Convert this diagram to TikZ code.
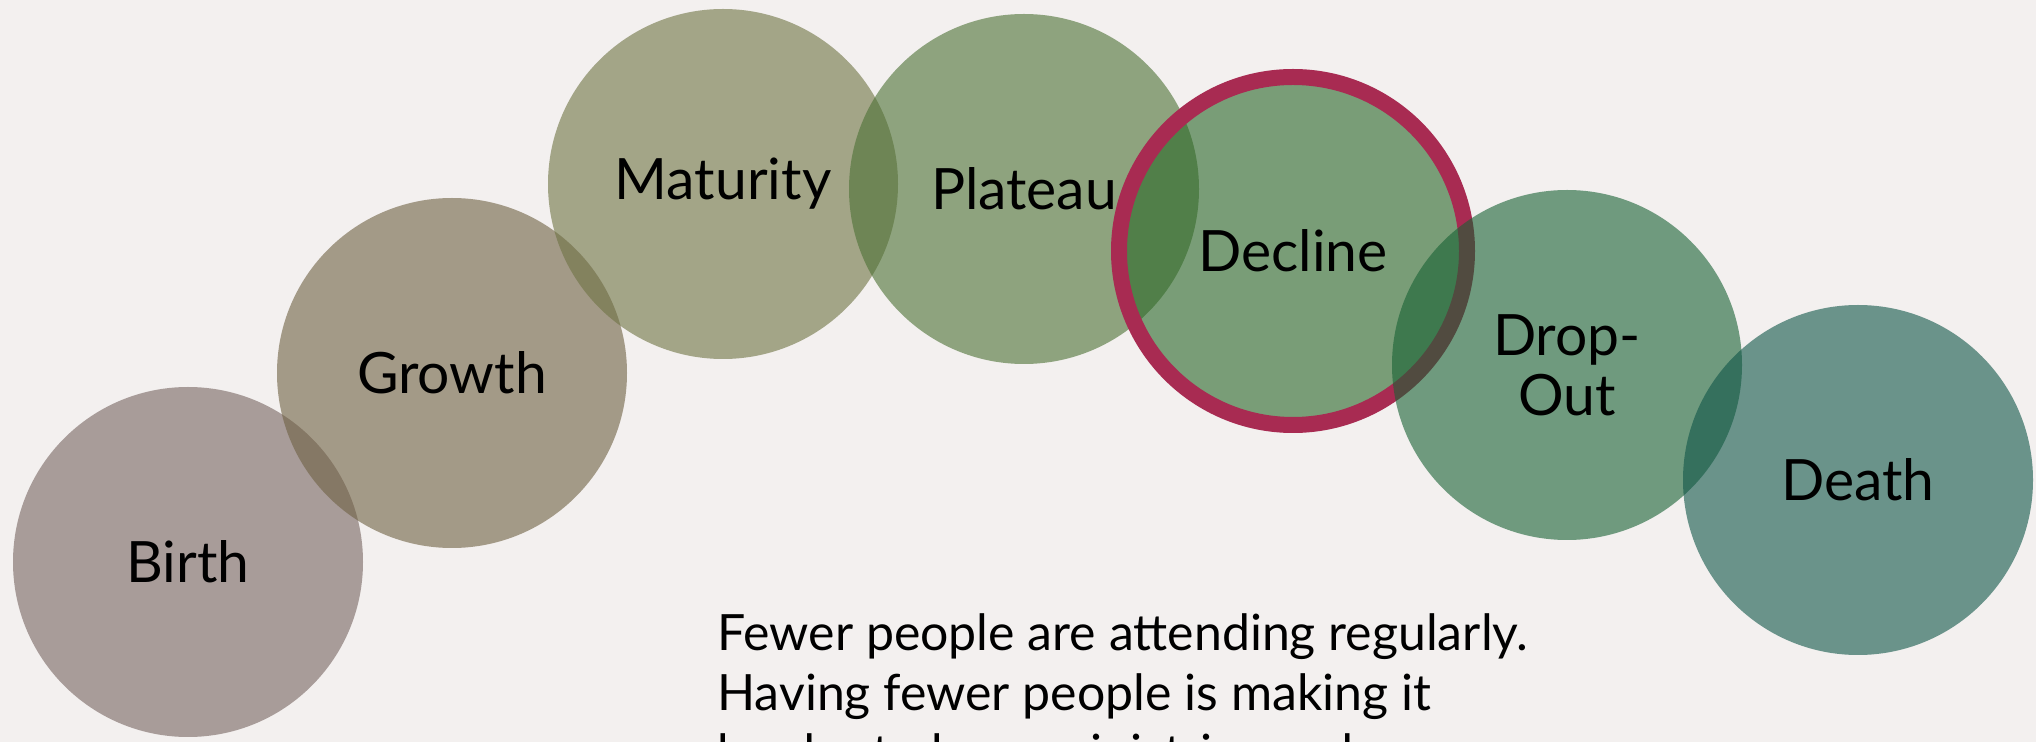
\documentclass[tikz,border=0pt]{standalone}
\usepackage{fontspec}
\setmainfont{Lato}
\definecolor{bgc}{RGB}{243,240,239}
\definecolor{birthc}{RGB}{118,100,97}
\definecolor{growthc}{RGB}{111,97,67}
\definecolor{maturityc}{RGB}{110,115,67}
\definecolor{plateauc}{RGB}{76,113,52}
\definecolor{declinec}{RGB}{41,103,39}
\definecolor{dropc}{RGB}{23,97,52}
\definecolor{deathc}{RGB}{15,85,72}
\definecolor{ringc}{RGB}{168,43,82}
\tikzset{
  stage/.style={circle, minimum size=175pt, inner sep=0pt, fill opacity=0.6, text opacity=1,
    font=\fontsize{28.5}{30}\selectfont, align=center, text=black},
  ringline/.style={draw=ringc, line width=8pt},
  note/.style={anchor=base west, align=left, inner sep=0pt, font=\fontsize{25}{30}\selectfont, text=black}
}
\begin{document}
\begin{tikzpicture}[x=0.5pt, y=-0.5pt]
\useasboundingbox (0,0) rectangle (2036,742);
\clip (0,0) rectangle (2036,742);
\fill[bgc] (0,0) rectangle (2036,742);
\node[stage, fill=birthc] (birth) at (188,562) {Birth};
\node[stage, fill=growthc] (growth) at (452,373) {Growth};
\node[stage, fill=maturityc] (maturity) at (723,184) {Maturity};
\node[stage, fill=plateauc] (plateau) at (1024,189) {Plateau};
\node[stage, fill=declinec] (decline) at (1293,251) {Decline};
\draw[ringline] (decline.center) circle (87pt);
\node[stage, fill=dropc] (drop) at (1567,365) {Drop-\\Out};
\node[stage, fill=deathc] (death) at (1858,480) {Death};
\node[note] (txt) at (717,770) {Fewer people are attending regularly.\\Having fewer people is making it\\harder to keep ministries and};
\end{tikzpicture}
\end{document}
